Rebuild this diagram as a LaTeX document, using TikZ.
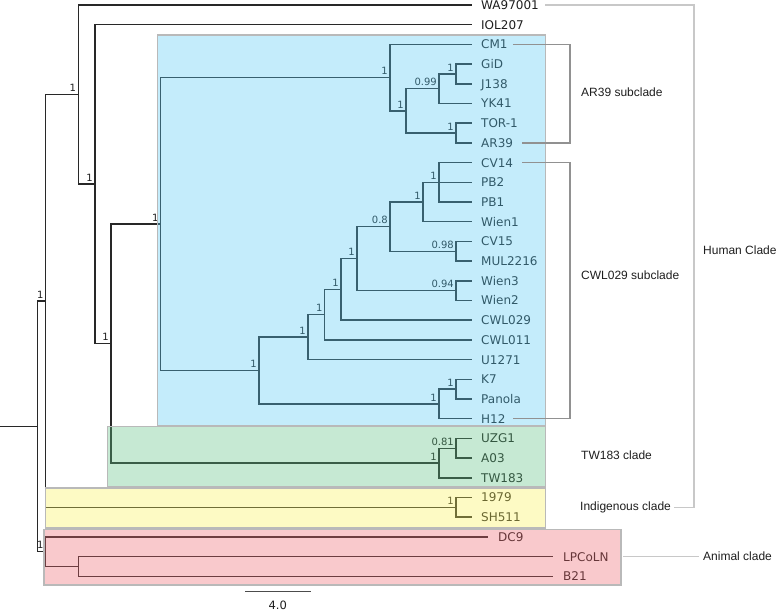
\documentclass[tikz,border=0pt]{standalone}
\usepackage{fontspec}
\setmainfont{DejaVu Sans}
\newfontfamily\cladefont{Liberation Sans}
\definecolor{treeC}{RGB}{40,40,40}
\definecolor{textC}{RGB}{30,30,30}
\definecolor{blueC}{RGB}{86,201,244}
\definecolor{greenC}{RGB}{92,192,129}
\definecolor{yellowC}{RGB}{249,241,86}
\definecolor{pinkC}{RGB}{238,101,109}
\definecolor{boxC}{RGB}{185,185,185}
\definecolor{brkC}{RGB}{145,145,145}
\definecolor{hbrkC}{RGB}{200,200,200}
\newcommand\ed[2]{\draw[br] (#1) |- (#2);}
\newcommand\lf[3][9.3]{\draw[br] (#2) |- ([xshift=-#1pt]#3.west);}
\newcommand\sv[2]{\node[supp] (s#1) at ([xshift=-2pt,yshift=2.5pt]#1) {#2};}
\begin{document}
\begin{tikzpicture}[x=1pt,y=-1pt,
  br/.style={draw=treeC, line width=1.45pt},
  leaf/.style={anchor=west, inner sep=0pt, text height=8.8pt, text depth=0pt, font=\fontsize{12}{14}\selectfont, text=textC},
  supp/.style={anchor=south east, inner sep=0pt, font=\fontsize{10}{12}\selectfont, text=textC},
  clade/.style={anchor=west, inner sep=0pt, font=\cladefont\fontsize{12}{14}\selectfont, text=textC},
  box/.style={draw=boxC, line width=1.1pt, fill opacity=0.35},
  brk/.style={draw=brkC, line width=1.2pt},
  hbrk/.style={draw=hbrkC, line width=1.2pt}]
\useasboundingbox (0,0) rectangle (778,611);

% leaves
\node[leaf] (LWA) at (481,5) {WA97001};
\node[leaf] (LIOL) at (481,24.7) {IOL207};
\node[leaf] (LCM1) at (481,44.4) {CM1};
\node[leaf] (LGiD) at (481,64.1) {GiD};
\node[leaf] (LJ138) at (481,83.8) {J138};
\node[leaf] (LYK41) at (481,103.5) {YK41};
\node[leaf] (LTOR) at (481,123.2) {TOR-1};
\node[leaf] (LAR39) at (481,142.9) {AR39};
\node[leaf] (LCV14) at (481,162.6) {CV14};
\node[leaf] (LPB2) at (481,182.3) {PB2};
\node[leaf] (LPB1) at (481,202) {PB1};
\node[leaf] (LWien1) at (481,221.7) {Wien1};
\node[leaf] (LCV15) at (481,241.4) {CV15};
\node[leaf] (LMUL) at (481,261.1) {MUL2216};
\node[leaf] (LWien3) at (481,280.8) {Wien3};
\node[leaf] (LWien2) at (481,300.5) {Wien2};
\node[leaf] (LCWL029) at (481,320.2) {CWL029};
\node[leaf] (LCWL011) at (481,339.9) {CWL011};
\node[leaf] (LU1271) at (481,359.6) {U1271};
\node[leaf] (LK7) at (481,379.3) {K7};
\node[leaf] (LPanola) at (481,399) {Panola};
\node[leaf] (LH12) at (481,418.7) {H12};
\node[leaf] (LUZG1) at (481,438.4) {UZG1};
\node[leaf] (LA03) at (481,458.1) {A03};
\node[leaf] (LTW183) at (481,477.8) {TW183};
\node[leaf] (L1979) at (481,497.5) {1979};
\node[leaf] (LSH511) at (481,517.2) {SH511};
\node[leaf] (LDC9) at (498,536.9) {DC9};
\node[leaf] (LLPC) at (563,556.6) {LPCoLN};
\node[leaf] (LB21) at (563,576.3) {B21};

% internal nodes
\coordinate (start) at (0,426.32);
\coordinate (root) at (37.7,426.32);
\coordinate (nHI) at (45.7,300.96);
\coordinate (nH) at (78.3,94.56);
\coordinate (nB) at (95,184.13);
\coordinate (nC) at (111,343.55);
\coordinate (nBlue) at (160.7,224.08);
\coordinate (nAR) at (390,77.64);
\coordinate (nAR2) at (406,110.89);
\coordinate (nGJY) at (439,88.73);
\coordinate (nGJ) at (456,73.95);
\coordinate (nTA) at (456,133.05);
\coordinate (nCWL) at (259,370.53);
\coordinate (nW) at (308,337.13);
\coordinate (n5) at (324.7,314.66);
\coordinate (n6) at (341,289.42);
\coordinate (n7) at (357,258.64);
\coordinate (n08) at (390,226.63);
\coordinate (nPB) at (423,202);
\coordinate (nPB2) at (439,182.3);
\coordinate (nCM) at (456,251.25);
\coordinate (nWien) at (456,290.65);
\coordinate (nKPH) at (439,403.93);
\coordinate (nKP) at (456,389.15);
\coordinate (nTW) at (439,463.03);
\coordinate (nUA) at (456,448.25);
\coordinate (nInd) at (456,507.35);
\coordinate (nAn) at (45.7,551.68);
\coordinate (nLB) at (78.7,566.45);

% branches
\draw[br] (start) -- (root);
\ed{root}{nHI} \ed{root}{nAn}
\ed{nHI}{nH} \ed{nHI}{nInd}
\lf{nH}{LWA} \ed{nH}{nB}
\lf{nB}{LIOL} \ed{nB}{nC}
\ed{nC}{nBlue} \ed{nC}{nTW}
\ed{nBlue}{nAR} \ed{nBlue}{nCWL}
\lf{nAR}{LCM1} \ed{nAR}{nAR2}
\ed{nAR2}{nGJY} \ed{nAR2}{nTA}
\ed{nGJY}{nGJ} \lf{nGJY}{LYK41}
\lf{nGJ}{LGiD} \lf{nGJ}{LJ138}
\lf{nTA}{LTOR} \lf{nTA}{LAR39}
\ed{nCWL}{nW} \ed{nCWL}{nKPH}
\ed{nW}{n5} \lf{nW}{LU1271}
\ed{n5}{n6} \lf{n5}{LCWL011}
\ed{n6}{n7} \lf{n6}{LCWL029}
\ed{n7}{n08} \ed{n7}{nWien}
\ed{n08}{nPB} \ed{n08}{nCM}
\ed{nPB}{nPB2} \lf{nPB}{LWien1}
\lf{nPB2}{LCV14} \lf{nPB2}{LPB2} \lf{nPB2}{LPB1}
\lf{nCM}{LCV15} \lf{nCM}{LMUL}
\lf{nWien}{LWien3} \lf{nWien}{LWien2}
\ed{nKPH}{nKP} \lf{nKPH}{LH12}
\lf{nKP}{LK7} \lf{nKP}{LPanola}
\ed{nTW}{nUA} \lf{nTW}{LTW183}
\lf{nUA}{LUZG1} \lf{nUA}{LA03}
\lf{nInd}{L1979} \lf{nInd}{LSH511}
\lf[10]{nAn}{LDC9} \ed{nAn}{nLB}
\lf[10]{nLB}{LLPC} \lf[10]{nLB}{LB21}

% support values
\sv{nH}{1} \sv{nB}{1} \sv{nC}{1} \sv{nBlue}{1}
\sv{nAR}{1} \sv{nAR2}{1} \sv{nGJY}{0.99} \sv{nGJ}{1} \sv{nTA}{1}
\sv{nCWL}{1} \sv{nW}{1} \sv{n5}{1} \sv{n6}{1} \sv{n7}{1}
\sv{n08}{0.8} \sv{nPB}{1} \sv{nPB2}{1} \sv{nCM}{0.98} \sv{nWien}{0.94}
\sv{nKPH}{1} \sv{nKP}{1} \sv{nTW}{1} \sv{nUA}{0.81} \sv{nInd}{1}
\sv{nHI}{1} \sv{nAn}{1}

% clade boxes
\draw[box, fill=blueC] (157.7,35) rectangle (545.7,426);
\draw[box, fill=greenC] (107.7,426.7) rectangle (545.7,487);
\draw[box, fill=yellowC] (45.3,488) rectangle (545.7,528);
\draw[box, fill=pinkC] (44,529.7) rectangle (621,585);

% brackets
\coordinate (bxSub) at (570,0);
\coordinate (bxHum) at (694,0);
\node[clade] (cAR) at (581,92) {AR39 subclade};
\node[clade] (cCWL) at (581,275) {CWL029 subclade};
\node[clade] (cTW) at (581,455) {TW183 clade};
\node[clade] (cInd) at (580,507.35) {Indigenous clade};
\node[clade] (cHum) at (703,250) {Human Clade};
\node[clade] (cAn) at (703,556.6) {Animal clade};
\draw[brk] ([xshift=5pt]LCM1.east) -- (LCM1.east -| bxSub) -- (LAR39.east -| bxSub) -- ([xshift=9pt]LAR39.east);
\draw[brk] ([xshift=9pt]LCV14.east) -- (LCV14.east -| bxSub) -- (LH12.east -| bxSub) -- ([xshift=7pt]LH12.east);
\draw[hbrk] ([xshift=6pt]LWA.east) -- (LWA.east -| bxHum) -- (cInd.east -| bxHum) -- ([xshift=3pt]cInd.east);
\draw[hbrk] (623,556.6) -- ([xshift=-4pt]cAn.west);

% scale bar
\coordinate (sbA) at (245,591.7);
\coordinate (sbB) at (310.7,591.7);
\draw[draw=black!70, line width=1.3pt] (sbA) -- (sbB);
\node[inner sep=0pt, font=\fontsize{11.5}{13}\selectfont, text=textC] (sbL) at (277.8,605) {4.0};
\end{tikzpicture}
\end{document}
